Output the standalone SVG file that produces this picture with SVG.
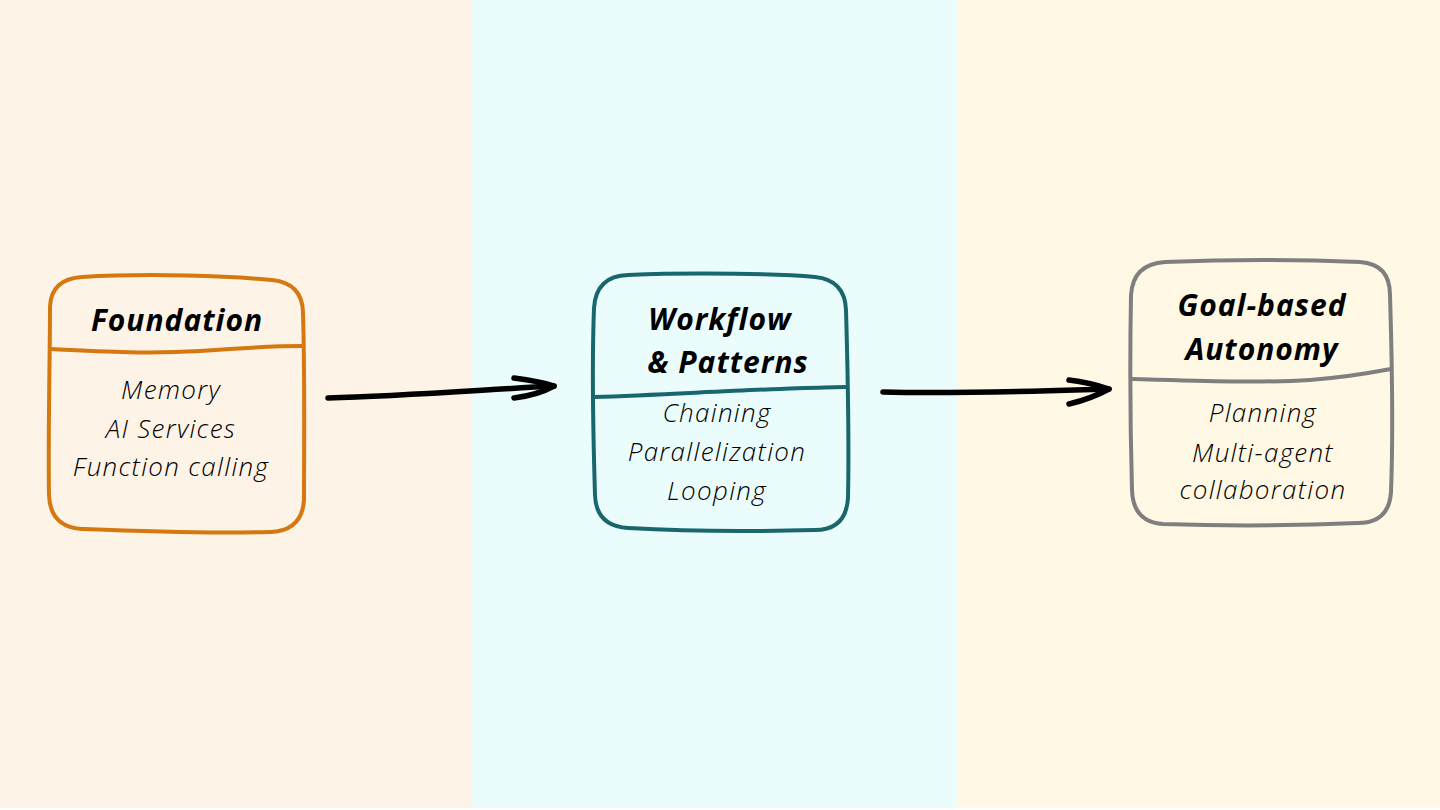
<svg xmlns="http://www.w3.org/2000/svg" width="1440" height="810" viewBox="0 0 1440 810">
<defs>
<style>
.box{fill:none;stroke-width:4;stroke-linecap:round;stroke-linejoin:round}
.title{font-family:"Open Sans","Liberation Sans",sans-serif;font-weight:700;font-style:italic;font-size:30px;letter-spacing:1px;fill:#000;text-anchor:middle}
.body{font-family:"Open Sans","Liberation Sans",sans-serif;font-weight:300;font-style:italic;font-size:26px;letter-spacing:1.3px;fill:#000;text-anchor:middle}
.conn{fill:none;stroke:#000;stroke-width:5.5;stroke-linecap:round;stroke-linejoin:round}
</style>
</defs>
<rect x="0" y="0" width="1440" height="810" fill="#ffffff"/>
<rect x="0" y="0" width="472" height="808" fill="#fef3e7"/>
<rect x="472" y="0" width="485" height="808" fill="#ebfcfd"/>
<rect x="957" y="0" width="483" height="808" fill="#fef8e4"/>

<g id="connectors">
<path class="conn" d="M 328,398 C 400,396 480,390 554,386"/>
<path class="conn" d="M 514,378 C 530,380 545,383 554,386 C 545,391 530,396 514,398"/>
<path class="conn" d="M 883,392 C 960,394 1040,391 1109,389"/>
<path class="conn" d="M 1069,380 C 1085,382 1100,386 1109,389 C 1098,395 1082,401 1069,404"/>
</g>

<g id="foundation">
<path class="box" stroke="#d5780f" d="M 82,277 C 150,273 230,276 272,280 Q 302,283 303,312 C 305,380 304,450 304,500 Q 302,531 270,532 C 200,534 130,531 82,529 Q 50,527 49,495 C 48,430 50,360 50,307 Q 51,279 82,277 Z"/>
<path class="box" stroke="#d5780f" d="M 51,349 C 110,352 150,354 200,351 C 240,348 280,346 302,346"/>
<text class="title" x="177" y="331">Foundation</text>
<text class="body" x="171" y="399">Memory</text>
<text class="body" x="171" y="438">AI Services</text>
<text class="body" x="171" y="476">Function calling</text>
</g>

<g id="workflow">
<path class="box" stroke="#17676d" d="M 628,275 C 700,272 780,274 815,277 Q 845,280 846,310 C 848,380 849,450 848,498 Q 846,530 815,530 C 740,532 680,531 628,528 Q 596,526 595,495 C 593,430 592,360 594,308 Q 596,276 628,275 Z"/>
<path class="box" stroke="#17676d" d="M 594,397 C 660,395 720,391 780,389 C 810,388 830,387 846,387"/>
<text class="title" x="720" y="330">Workflow</text>
<text class="title" x="728" y="373">&amp; Patterns</text>
<text class="body" x="717" y="422">Chaining</text>
<text class="body" x="717" y="461">Parallelization</text>
<text class="body" x="717" y="500">Looping</text>
</g>

<g id="goal">
<path class="box" stroke="#7f7f7f" d="M 1165,262 C 1240,259 1310,260 1360,262 Q 1390,264 1390,295 C 1392,360 1393,440 1391,492 Q 1389,523 1358,523 C 1290,526 1220,526 1163,524 Q 1133,522 1132,490 C 1130,420 1130,350 1131,295 Q 1133,264 1165,262 Z"/>
<path class="box" stroke="#7f7f7f" d="M 1132,379 C 1200,381 1260,383 1310,380 C 1350,377 1375,372 1391,369"/>
<text class="title" x="1262" y="316">Goal-based</text>
<text class="title" x="1262" y="360">Autonomy</text>
<text class="body" x="1263" y="422">Planning</text>
<text class="body" x="1263" y="462">Multi-agent</text>
<text class="body" x="1263" y="499">collaboration</text>
</g>
</svg>
